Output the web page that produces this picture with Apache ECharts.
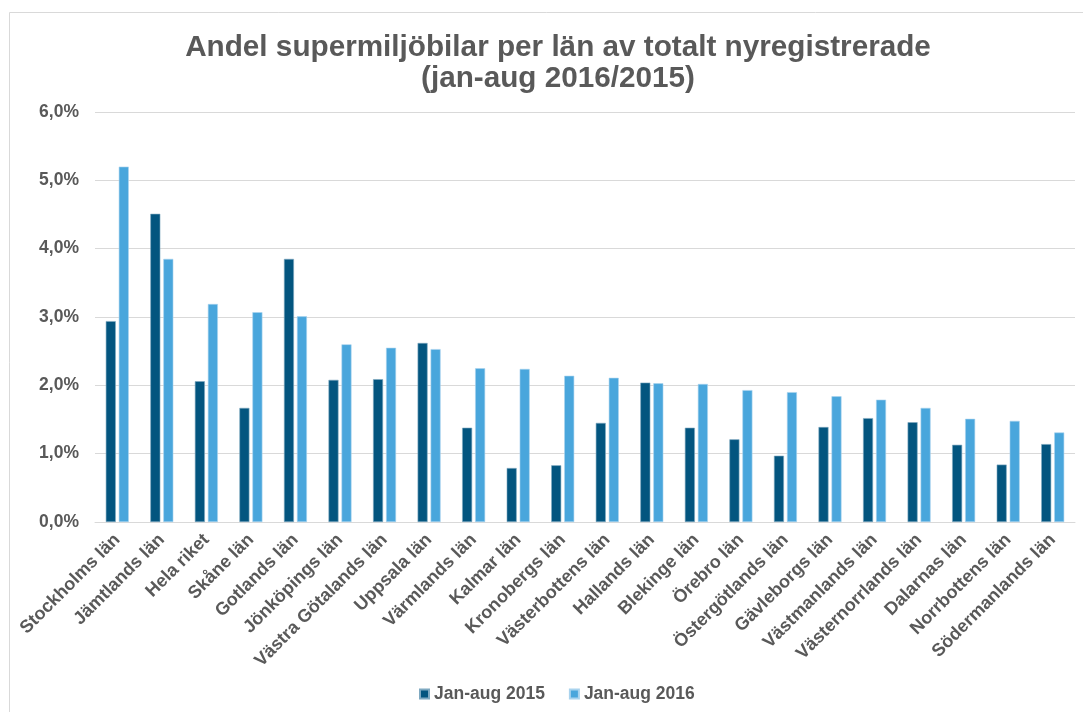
<!DOCTYPE html>
<html>
<head>
<meta charset="utf-8">
<script src="https://cdn.jsdelivr.net/npm/echarts@6/dist/echarts.min.js"></script>
<style>
html,body{margin:0;padding:0;background:#fff;}
#c{width:1083px;height:712px;}
</style>
</head>
<body>
<div id="c"></div>
<script>
const categories = ["Stockholms län","Jämtlands län","Hela riket","Skåne län","Gotlands län","Jönköpings län","Västra Götalands län","Uppsala län","Värmlands län","Kalmar län","Kronobergs län","Västerbottens län","Hallands län","Blekinge län","Örebro län","Östergötlands län","Gävleborgs län","Västmanlands län","Västernorrlands län","Dalarnas län","Norrbottens län","Södermanlands län"];
const jan2015 = [2.94,4.51,2.06,1.67,3.85,2.08,2.09,2.62,1.38,0.79,0.83,1.45,2.04,1.38,1.21,0.97,1.39,1.52,1.46,1.13,0.84,1.14];
const jan2016 = [5.20,3.85,3.19,3.07,3.01,2.60,2.55,2.53,2.25,2.24,2.14,2.11,2.03,2.02,1.93,1.90,1.84,1.79,1.67,1.51,1.48,1.31];
const seriesNames = ["Jan-aug 2015","Jan-aug 2016"];
const titleLines = ["Andel supermiljöbilar per län av totalt nyregistrerade","(jan-aug 2016/2015)"];

const font = '"Liberation Sans", Arial, sans-serif';
const txt = '#595959';
const chart = echarts.init(document.getElementById('c'));
chart.setOption({
  animation: false,
  backgroundColor: '#fff',
  title: {
    text: titleLines.join('\n'),
    left: 553, textAlign: 'center', top: 27,
    textStyle: {fontFamily: font, fontWeight: 'bold', fontSize: 29.7, color: txt, lineHeight: 31}
  },
  graphic: [{
    type: 'rect', shape: {x: 9.5, y: 12.5, width: 1100, height: 720},
    style: {fill: 'none', stroke: '#d9d9d9', lineWidth: 1}, silent: true, z: -1
  }],
  legend: {
    bottom: 4, left: 414,
    itemWidth: 9, itemHeight: 9, itemGap: 24,
    icon: 'rect',
    textStyle: {fontFamily: font, fontWeight: 'bold', fontSize: 17.5, color: txt},
    data: seriesNames
  },
  grid: {left: 95, right: 8, top: 112, bottom: 190, containLabel: false},
  xAxis: {
    type: 'category', data: categories,
    axisLine: {lineStyle: {color: '#d9d9d9', width: 1}},
    axisTick: {show: false},
    axisLabel: {rotate: 45, interval: 0, margin: 15, fontFamily: font, fontWeight: 'bold', fontSize: 18, color: txt}
  },
  yAxis: {
    type: 'value', min: 0, max: 6, interval: 1,
    axisLine: {show: false}, axisTick: {show: false},
    splitLine: {lineStyle: {color: '#d9d9d9', width: 1}},
    axisLabel: {margin: 16, fontFamily: font, fontWeight: 'bold', fontSize: 17.5, color: txt,
      formatter: v => v.toFixed(1).replace('.', ',') + '%'}
  },
  series: [
    {name: seriesNames[0], type: 'bar', data: jan2015, barWidth: 10, barGap: '30%',
     itemStyle: {color: '#03557f', borderColor: '#7fa9c1', borderWidth: 0.6}},
    {name: seriesNames[1], type: 'bar', data: jan2016, barWidth: 10, barGap: '30%',
     itemStyle: {color: '#49a6dc', borderColor: '#a9d3ee', borderWidth: 0.6}}
  ]
});
</script>
</body>
</html>
